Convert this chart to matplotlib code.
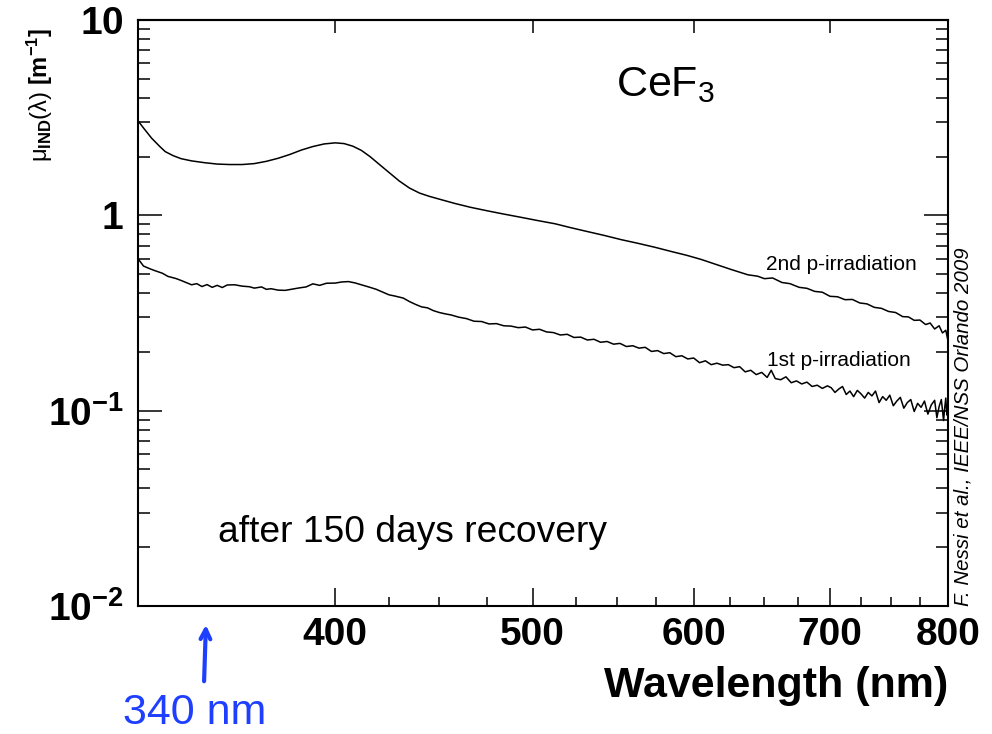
import numpy as np
import matplotlib
matplotlib.use('Agg')
import matplotlib.pyplot as plt
from matplotlib.ticker import FixedLocator, FixedFormatter, NullFormatter, NullLocator, LogLocator

# 1st p-irradiation
lam1 = [320, 322, 324, 326, 329, 331, 334, 336, 338, 340,
        342, 344, 346, 348, 350, 352, 354, 357, 360, 363,
        365, 368, 370, 372, 375, 378, 381, 384, 387, 390,
        393, 396, 400, 403, 406, 409, 412, 416, 419, 422,
        425, 428, 432, 435, 438, 441, 444, 447, 450, 453,
        456, 460, 464, 468, 472, 476, 480, 484, 488, 492,
        496, 500, 504, 508, 512, 516, 520, 524, 528, 532,
        536, 540, 544, 548, 552, 556, 560,
        564, 568, 572, 576, 580, 584, 588, 592, 596, 600,
        604, 608, 612, 616, 620, 624, 628, 632, 636, 640,
        644, 648, 652, 655, 658, 662, 666, 670, 674, 678,
        682, 686, 690, 694, 698,
        701, 704, 707, 710, 713, 716, 719, 722, 725, 728,
        731, 734, 737, 740, 743, 746, 749, 752, 755, 758,
        761, 764, 767, 770, 773, 776, 779, 782, 785, 788,
        790, 792, 794, 796, 797, 798, 799, 800]
mu1 = [0.60, 0.55, 0.535, 0.522, 0.505, 0.487, 0.475, 0.464, 0.452, 0.441,
       0.447, 0.432, 0.442, 0.428, 0.438, 0.427, 0.440, 0.441, 0.434, 0.431,
       0.424, 0.430, 0.418, 0.421, 0.414, 0.413, 0.419, 0.425, 0.430, 0.446,
       0.438, 0.449, 0.450, 0.456, 0.458, 0.451, 0.441, 0.428, 0.418, 0.405,
       0.392, 0.386, 0.377, 0.362, 0.350, 0.340, 0.336, 0.325, 0.318, 0.313,
       0.309, 0.301, 0.296, 0.287, 0.286, 0.278, 0.279, 0.272, 0.271, 0.266,
       0.268, 0.259, 0.261, 0.253, 0.251, 0.244, 0.246, 0.237, 0.238, 0.230,
       0.232, 0.224, 0.226, 0.219, 0.221, 0.213, 0.215,
       0.209, 0.211, 0.201, 0.203, 0.196, 0.198, 0.189, 0.191, 0.184, 0.186,
       0.176, 0.180, 0.172, 0.175, 0.171, 0.172, 0.166, 0.168, 0.158, 0.161,
       0.153, 0.157, 0.148, 0.161, 0.146, 0.144, 0.149, 0.139, 0.142, 0.137,
       0.140, 0.133, 0.135, 0.130, 0.134,
       0.131, 0.124, 0.129, 0.133, 0.121, 0.126, 0.118, 0.127, 0.122, 0.116,
       0.124, 0.119, 0.126, 0.110, 0.118, 0.113, 0.120, 0.106, 0.112, 0.117,
       0.103, 0.110, 0.114, 0.099, 0.109, 0.104, 0.112, 0.096, 0.107, 0.113,
       0.092, 0.105, 0.114, 0.089, 0.103, 0.116, 0.095, 0.101]

# 2nd p-irradiation
lam2 = [320, 322, 325, 328, 330, 333, 336, 340, 345, 350,
        355, 360, 365, 370, 375, 380, 385, 390, 395, 400,
        404, 408, 412, 416, 420, 425, 430, 435, 440, 445,
        450, 458, 466, 475, 484, 494, 503, 513, 522, 532,
        542, 553, 563, 574, 586, 595, 605, 614, 626, 638,
        645, 650, 656, 663, 669, 676, 682, 688, 694, 700,
        706, 712, 718, 724, 730, 736, 742, 748, 754, 760,
        765, 770, 775, 780, 784, 788, 792, 795, 798, 800]
mu2 = [3.05, 2.80, 2.48, 2.25, 2.12, 2.02, 1.95, 1.90, 1.86, 1.83,
       1.82, 1.82, 1.84, 1.89, 1.96, 2.05, 2.16, 2.25, 2.32, 2.35,
       2.33, 2.26, 2.15, 2.00, 1.84, 1.66, 1.50, 1.38, 1.30, 1.25,
       1.21, 1.15, 1.10, 1.055, 1.015, 0.975, 0.94, 0.905, 0.865, 0.826,
       0.79, 0.75, 0.72, 0.687, 0.65, 0.625, 0.595, 0.565, 0.528, 0.496,
       0.488, 0.474, 0.478, 0.453, 0.447, 0.428, 0.423, 0.408, 0.404, 0.385,
       0.383, 0.370, 0.371, 0.356, 0.352, 0.338, 0.334, 0.322, 0.318, 0.303,
       0.302, 0.290, 0.291, 0.276, 0.281, 0.262, 0.272, 0.250, 0.258, 0.228]

xticks = [400, 500, 600, 700, 800]
xticklabels = ['400', '500', '600', '700', '800']
xminor = [425, 450, 475, 525, 550, 575, 625, 650, 675, 725, 750, 775]
yticks = [0.01, 0.1, 1, 10]
yticklabels = [r'$\mathbf{10^{-2}}$', r'$\mathbf{10^{-1}}$', r'$\mathbf{1}$', r'$\mathbf{10}$']

plt.rcParams['font.family'] = ['Liberation Sans', 'DejaVu Sans']
plt.rcParams['mathtext.fontset'] = 'custom'
plt.rcParams['mathtext.rm'] = 'Liberation Sans'
plt.rcParams['mathtext.it'] = 'Liberation Sans:italic'
plt.rcParams['mathtext.bf'] = 'Liberation Sans:bold'

W, H = 992, 734


def px(x, y):
    return x / W, 1 - y / H


fig = plt.figure(figsize=(W / 100, H / 100), dpi=100)
ax = fig.add_axes([138 / W, 1 - 606 / H, (948 - 138) / W, (606 - 20) / H])

ax.plot(lam2, mu2, color='black', lw=1.1)
ax.plot(lam1, mu1, color='black', lw=1.1)

ax.set_xscale('log')
ax.set_yscale('log')
ax.set_xlim(320, 800)
ax.set_ylim(0.01, 10)

ax.xaxis.set_major_locator(FixedLocator(xticks))
ax.xaxis.set_major_formatter(FixedFormatter(xticklabels))
ax.xaxis.set_minor_locator(FixedLocator(xminor))
ax.xaxis.set_minor_formatter(NullFormatter())
ax.yaxis.set_major_locator(FixedLocator(yticks))
ax.yaxis.set_major_formatter(FixedFormatter(yticklabels))
ax.yaxis.set_minor_locator(LogLocator(base=10, subs=np.arange(2, 10)))
ax.yaxis.set_minor_formatter(NullFormatter())

ax.tick_params(axis='x', which='major', direction='in', length=13, width=1.1,
               top=False, labelsize=28, pad=8)
ax.tick_params(axis='x', which='minor', direction='in', length=6.5, width=1.1, top=False)
ax.tick_params(axis='y', which='major', direction='in', length=17, width=1.1,
               right=True, labelsize=28, pad=10)
ax.tick_params(axis='y', which='minor', direction='in', length=8.5, width=1.1, right=True)
plt.setp(ax.get_xticklabels(), fontweight='bold')

top = ax.secondary_xaxis('top')
top.xaxis.set_major_locator(FixedLocator(xticks))
top.xaxis.set_minor_locator(NullLocator())
top.tick_params(direction='in', length=9, width=1.1, labeltop=False)

for s in ax.spines.values():
    s.set_linewidth(1.5)
top.spines['top'].set_linewidth(1.5)

fig.text(*px(948, 697), 'Wavelength (nm)', fontsize=31, fontweight='bold', ha='right', va='baseline')
fig.text(*px(40, 95), r'μ$_{\mathbf{IND}}$(λ) $\mathbf{[m^{-1}]}$', fontsize=17,
         rotation=90, ha='center', va='center')
fig.text(*px(616, 96), r'CeF$_3$', fontsize=31, ha='left', va='baseline')
fig.text(*px(766, 270), '2nd p-irradiation', fontsize=15, ha='left', va='baseline')
fig.text(*px(767, 366), '1st p-irradiation', fontsize=15, ha='left', va='baseline')
fig.text(*px(218, 542), 'after 150 days recovery', fontsize=26.7, ha='left', va='baseline')
fig.text(*px(963, 606), 'F. Nessi et al., IEEE/NSS Orlando 2009', fontsize=14.8, style='italic',
         rotation=90, ha='center', va='bottom')

blue = '#1f3fff'
fig.text(*px(195, 724), '340 nm', fontsize=31, color=blue, ha='center', va='baseline')
ax.annotate('', xy=px(206, 622), xycoords='figure fraction',
            xytext=px(204, 684), textcoords='figure fraction',
            arrowprops=dict(arrowstyle='->,head_length=0.7,head_width=0.35', color=blue, lw=3))

fig.savefig('out.png', dpi=100)
